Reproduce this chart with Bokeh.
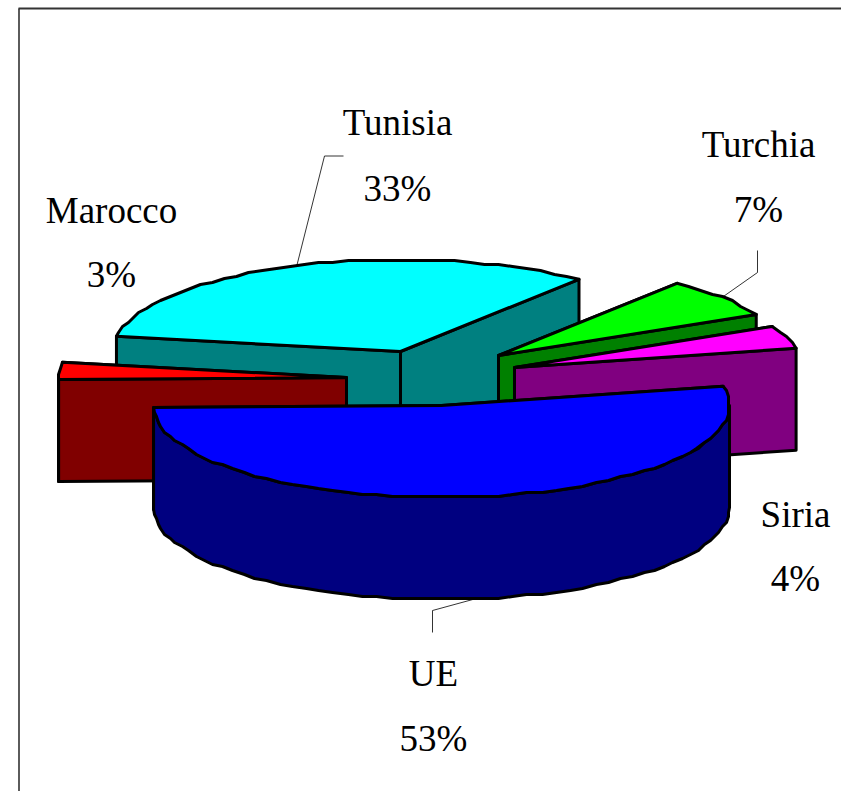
import numpy as np
from bokeh.core.properties import value
from bokeh.embed import file_html
from bokeh.models import Range1d
from bokeh.plotting import figure
from bokeh.resources import INLINE

# Share of each partner, in clockwise order starting from Tunisia
categories = ["Tunisia", "Turchia", "Siria", "UE", "Marocco"]
shares = [33, 7, 4, 53, 3]
top_colors = ["#00FFFF", "#00FF00", "#FF00FF", "#0000FF", "#FF0000"]
side_colors = ["#008080", "#008000", "#800080", "#000080", "#800000"]

# Projection of the pie disc and its thickness, in page pixels
RX, RY, DEPTH = 288.0, 92.0, 102.0
START_ANGLE = 170.5
ARC_STEP = 3.0
# The rim is drawn as a fine polyline snapped to this pixel grid
RIM_GRID = 2.0

# Apex of each exploded slice on the page
apex = {
    "Tunisia": (400, 351),
    "Turchia": (498, 355),
    "Siria": (514, 367),
    "UE": (441, 405),
    "Marocco": (346, 377),
}

# Label centres: (x, name line y, percent line y)
label_pos = {
    "Tunisia": (397, 122, 188),
    "Turchia": (758, 144, 209),
    "Siria": (795, 514, 578),
    "UE": (433, 673, 738),
    "Marocco": (111, 210, 274),
}

# Leader elbows running from the slice rim towards its label
leaders = {
    "Tunisia": [(324, 155.5), (343, 155.5)],
    "Turchia": [(757, 272), (757, 250)],
    "UE": [(432, 610), (432, 632)],
}

p = figure(
    width=841,
    height=791,
    output_backend="svg",
    toolbar_location=None,
    x_range=Range1d(0, 841),
    y_range=Range1d(791, 0),
    min_border=0,
)
p.axis.visible = False
p.grid.visible = False
p.outline_line_color = None
p.background_fill_color = "white"
p.border_fill_color = "white"

# Chart frame: only the top and left edges fall inside the page
p.line([18.5, 18.5], [791, 8], line_color="#333333", line_width=1.6)
p.line([18, 841], [8, 8], line_color="#333333", line_width=2)


def rim(cx, cy, a0, a1):
    """Rim polyline going clockwise from a0 to a1, with snapped inner points."""
    n = max(2, int(abs(a0 - a1) / ARC_STEP) + 1)
    t = np.radians(np.linspace(a0, a1, n))
    x = cx + RX * np.cos(t)
    y = cy - RY * np.sin(t)
    x[1:-1] = np.round(x[1:-1] / RIM_GRID) * RIM_GRID
    y[1:-1] = np.round(y[1:-1] / RIM_GRID) * RIM_GRID
    return x, y


def face(xs, ys, fill):
    p.patch(list(xs), list(ys), fill_color=fill, line_color="black",
            line_width=3, line_join="round")


# Slice angular spans derived from the shares
spans = {}
angle = START_ANGLE
for name, share in zip(categories, shares):
    spans[name] = (angle, angle - share * 3.6)
    angle -= share * 3.6

# Painter's order: back slices first, the large front slice last
draw_order = ["Tunisia", "Turchia", "Siria", "Marocco", "UE"]
for name in draw_order:
    i = categories.index(name)
    cx, cy = apex[name]
    a0, a1 = spans[name]

    # Two radial cut faces, the farther one first
    ends = sorted([a0, a1], key=lambda a: np.sin(np.radians(a)), reverse=True)
    for a in ends:
        ex = cx + RX * np.cos(np.radians(a))
        ey = cy - RY * np.sin(np.radians(a))
        face([cx, ex, ex, cx], [cy, ey, ey + DEPTH, cy + DEPTH], side_colors[i])

    # Outer wall wherever the rim faces the viewer (angles from 180 to 360)
    low = min(a0, a1) % 360
    high = low + abs(a0 - a1)
    w0, w1 = max(low, 180), min(high, 360)
    if w1 > w0:
        wx, wy = rim(cx, cy, w0, w1)
        face(np.r_[wx, wx[::-1]], np.r_[wy, wy[::-1] + DEPTH], side_colors[i])

    # Top surface
    tx, ty = rim(cx, cy, a0, a1)
    face(np.r_[cx, tx], np.r_[cy, ty], top_colors[i])

# Leader lines
for name, elbow in leaders.items():
    cx, cy = apex[name]
    a0, a1 = spans[name]
    mid = np.radians((a0 + a1) / 2)
    sx = cx + RX * np.cos(mid)
    sy = cy - RY * np.sin(mid)
    if np.sin(mid) < 0:
        sy += DEPTH
    xs = [sx] + [e[0] for e in elbow]
    ys = [sy] + [e[1] for e in elbow]
    p.line(xs, ys, line_color="black", line_width=0.8)

# Labels: name on one line, percentage below
for name, share in zip(categories, shares):
    x, y1, y2 = label_pos[name]
    p.text(
        [x, x], [y1, y2], text=[name, f"{share}%"],
        text_font=value("Liberation Serif"),
        text_font_size=value("37px"),
        text_color="black",
        text_align="center",
        text_baseline="middle",
    )

open("out.html", "w").write(file_html(p, INLINE))
